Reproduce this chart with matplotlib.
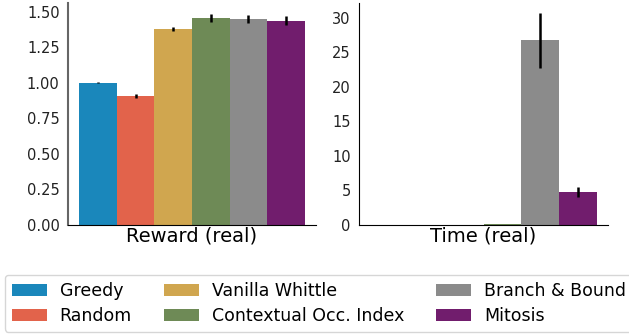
import numpy as np
import matplotlib
matplotlib.use('Agg')
import matplotlib.pyplot as plt

methods = ["Greedy", "Random", "Vanilla Whittle", "Contextual Occ. Index",
           "Branch & Bound", "Mitosis"]
colors = ["#1a87bb", "#e2634b", "#d0a64f", "#6e8a56", "#8b8b8b", "#711d6d"]

reward_mean = [1.000, 0.906, 1.377, 1.455, 1.448, 1.434]
reward_err = [0.003, 0.016, 0.015, 0.030, 0.030, 0.032]

time_mean = [0.001, 0.001, 0.05, 0.12, 26.7, 4.8]
time_err = [0.0, 0.0, 0.0, 0.0, 3.95, 0.68]

fig = plt.figure(figsize=(6.29, 3.35), dpi=100)
W, H = 629.0, 335.0
ax1 = fig.add_axes([68 / W, 1 - 225 / H, (316 - 68) / W, 222 / H])
ax2 = fig.add_axes([359 / W, 1 - 225 / H, (608 - 359) / W, 222 / H])

x = np.arange(len(methods))


def draw(ax, means, errs, label, ylim):
    bars = ax.bar(x, means, width=1.0, color=colors, label=methods)
    ax.errorbar(x, means, yerr=errs, fmt='none', ecolor='black', elinewidth=1.8)
    ax.set_xlim(-0.8, 5.8)
    ax.set_ylim(*ylim)
    ax.set_xticks([])
    ax.set_xlabel(label, fontsize=14, labelpad=1)
    ax.spines['top'].set_visible(False)
    ax.spines['right'].set_visible(False)
    ax.tick_params(axis='y', length=0, pad=6, labelsize=10.5, labelcolor='#222222')
    return bars


bars = draw(ax1, reward_mean, reward_err, "Reward (real)", (0, 1.56))
ax1.set_yticks([0, 0.25, 0.5, 0.75, 1.0, 1.25, 1.5])
ax1.set_yticklabels(["%.2f" % v for v in ax1.get_yticks()])
ax1.spines['left'].set_color('#666666')
ax1.spines['left'].set_linewidth(1.5)

draw(ax2, time_mean, time_err, "Time (real)", (0, 32.1))
ax2.set_yticks([0, 5, 10, 15, 20, 25, 30])

# legend runs off the right edge on purpose, as in the paper figure
fig.legend(bars, methods, loc='upper left', bbox_to_anchor=(5 / W, 1 - 275 / H),
           ncol=3, fontsize=12.5, handlelength=2.0, handleheight=0.7,
           handletextpad=0.75, columnspacing=1.85, labelspacing=0.4,
           borderaxespad=0, borderpad=0.4, frameon=True)

fig.savefig("out.png", dpi=100)
